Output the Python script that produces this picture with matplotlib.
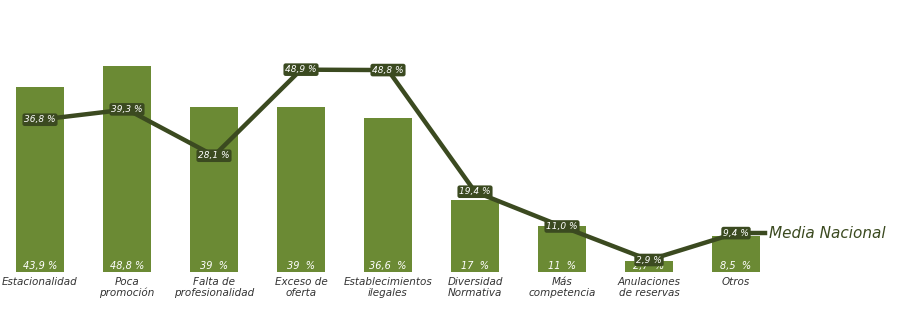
import numpy as np
import matplotlib.pyplot as plt

categories = ["Estacionalidad", "Poca\npromoción", "Falta de\nprofesionalidad", "Exceso de\noferta",
              "Establecimientos\nilegales", "Diversidad\nNormativa", "Más\ncompetencia",
              "Anulaciones\nde reservas", "Otros"]
bar_values = [43.9, 48.8, 39, 39, 36.6, 17, 11, 2.7, 8.5]
bar_labels = ["43,9 %", "48,8 %", "39  %", "39  %", "36,6  %", "17  %", "11  %", "2,7  %", "8,5  %"]
media = [36.8, 39.3, 28.1, 48.9, 48.8, 19.4, 11.0, 2.9, 9.4]
media_labels = ["36,8 %", "39,3 %", "28,1 %", "48,9 %", "48,8 %", "19,4 %", "11,0 %", "2,9 %", "9,4 %"]

bar_color = "#6b8a34"
line_color = "#3b4a20"
text_color = "#333333"

fig = plt.figure(figsize=(9, 3.34), dpi=100)
ax = fig.add_axes([0, 62 / 334, 1, 252 / 334])
x = np.arange(len(categories))
ax.set_xlim(-40 / 87, 860 / 87)
ax.set_ylim(0, 59.7)

ax.bar(x, bar_values, width=0.55, color=bar_color, zorder=1)
for xi, lab in zip(x, bar_labels):
    ax.text(xi, 1.45, lab, ha="center", va="center", color="white", style="italic", fontsize=7, zorder=2)

for xi, cat in zip(x, categories):
    ax.text(xi, -1.3, cat, ha="center", va="top", color=text_color, style="italic", fontsize=7.5,
            linespacing=1.05)
ax.axis("off")

# the average line sits on its own, slightly different scale
ax2 = ax.twinx()
ax2.set_ylim(0, 60.9)
ax2.axis("off")
ax2.plot(x, media, color=line_color, lw=3.2, zorder=3, solid_capstyle="butt")
ax2.plot([x[-1], x[-1] + 0.33], [media[-1], media[-1]], color=line_color, lw=3.2, zorder=3)
for xi, v, lab in zip(x, media, media_labels):
    ax2.text(xi, v, lab, ha="center", va="center", color="white", style="italic", fontsize=6.5, zorder=4,
             bbox=dict(boxstyle="round,pad=0.2,rounding_size=0.25", fc=line_color, ec="none"))
ax2.text(x[-1] + 0.38, media[-1], "Media Nacional", ha="left", va="center", color=line_color,
         style="italic", fontsize=11)

fig.savefig("out.png", dpi=100, facecolor="white")
